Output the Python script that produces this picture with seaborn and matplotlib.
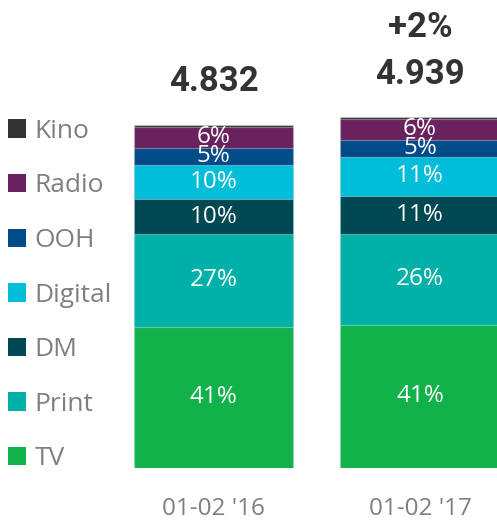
import matplotlib
matplotlib.use("Agg")
import matplotlib.pyplot as plt
import seaborn as sns
import numpy as np
import pandas as pd
from matplotlib.patches import Patch

periods = ["01-02 '16", "01-02 '17"]
totals = [4.832, 4.939]
change_labels = ["", "+2%"]
channels = ["TV", "Print", "DM", "Digital", "OOH", "Radio", "Kino"]
share_16 = [41, 27, 10, 10, 5, 6, 0.6]
share_17 = [41, 26, 11, 11, 5, 6, 0.4]
colors = ["#12B24B", "#00B1A9", "#004852", "#00BED9", "#004C88", "#6A225F", "#333333"]

sns.set_theme(style="white")
plt.rcParams["font.family"] = ["Open Sans", "DejaVu Sans"]

shares = np.array([share_16, share_17], dtype=float)
shares = shares / shares.sum(axis=1, keepdims=True)
values = shares * np.array(totals)[:, None]
cum = np.cumsum(values, axis=1)

fig = plt.figure(figsize=(4.97, 5.23), dpi=100)
H = 523.0
ax = fig.add_axes([134 / 497, (H - 468) / H, 363 / 497, 468 / H])

# draw cumulative from top down so segments stack
for j in range(len(channels) - 1, -1, -1):
    df = pd.DataFrame({"period": periods, "value": cum[:, j]})
    sns.barplot(data=df, x="period", y="value", color=colors[j], width=0.77,
                saturation=1, ax=ax, edgecolor=(1, 1, 1, 0.35), linewidth=0.8)

px_per_unit = 343 / totals[0]
ax.set_ylim(0, 468 / px_per_unit)
ax.set_xlim(-0.385, 1.373)

# segment labels
for i in range(len(periods)):
    for j, ch in enumerate(channels):
        if ch == "Kino":
            continue
        pct = [share_16, share_17][i][j]
        lo = cum[i, j] - values[i, j]
        ax.text(i, lo + values[i, j] / 2, f"{pct:g}%", ha="center", va="center",
                color="white", fontsize=17.5)

# totals
bold_fam = ["Liberation Sans Narrow", "Roboto", "DejaVu Sans"]
for i, t in enumerate(totals):
    ax.annotate(f"{t:.3f}", (i, t), xytext=(0, 31), textcoords="offset points",
                ha="center", va="center", fontsize=25, fontweight="bold",
                color="#333333", family=bold_fam, annotation_clip=False)
    if change_labels[i]:
        ax.annotate(change_labels[i], (i, t), xytext=(0, 65), textcoords="offset points",
                    ha="center", va="center", fontsize=25, fontweight="bold",
                    color="#333333", family=bold_fam, annotation_clip=False)

ax.set_xlabel("")
ax.set_ylabel("")
ax.set_yticks([])
ax.tick_params(axis="x", length=0, pad=21, labelsize=17.5, labelcolor="#7F7F7F")
for s in ax.spines.values():
    s.set_visible(False)

handles = [Patch(facecolor=colors[j], edgecolor="none", label=channels[j])
           for j in range(len(channels) - 1, -1, -1)]
fig.legend(handles=handles, loc="upper left", bbox_to_anchor=(0.0, (H - 111) / H),
           frameon=False, fontsize=19, labelcolor="#7F7F7F", handlelength=0.7,
           handleheight=0.7, handletextpad=0.3, labelspacing=1.12, borderpad=0.3,
           borderaxespad=0.0)

fig.savefig("out.png", dpi=100)
